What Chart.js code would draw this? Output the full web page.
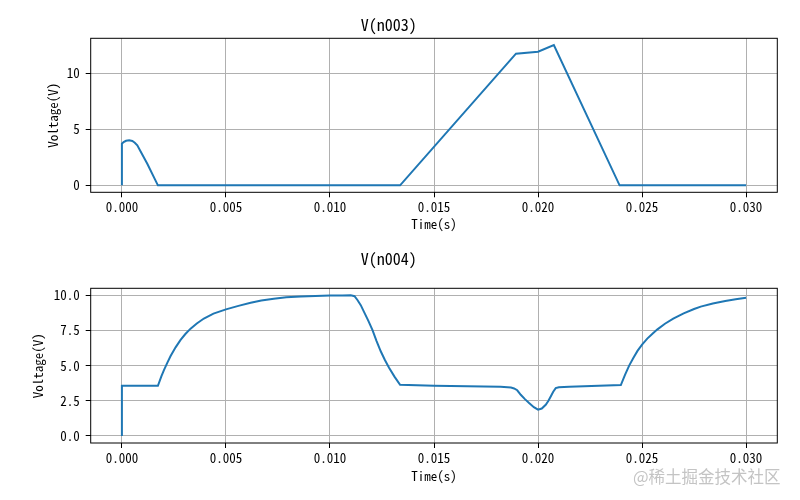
<!DOCTYPE html>
<html>
<head>
<meta charset="utf-8">
<script src="https://cdn.jsdelivr.net/npm/chart.js@4/dist/chart.umd.min.js"></script>
<style>
  html, body { margin: 0; padding: 0; background: #fff; }
  .box { position: relative; width: 800px; }
  .mark { position: absolute; left: 633px; top: 464px; font: 16.5px 'Noto Sans CJK SC', sans-serif; color: #c4c4c4; white-space: nowrap; }
</style>
</head>
<body>
<div class="box" style="height:240px"><canvas id="c1"></canvas></div>
<div class="box" style="height:260px"><canvas id="c2"></canvas></div>
<div class="mark">@稀土掘金技术社区</div>
<script>
// V(n003)
const timeN003 = [0, 0, 0.00008, 0.0002, 0.00035, 0.0005, 0.00062, 0.00074, 0.0009, 0.00122, 0.00173,
  0.01337, 0.01894, 0.020, 0.02076, 0.02392, 0.030];
const voltN003 = [0, 3.72, 3.85, 3.97, 4.02, 3.95, 3.8, 3.57, 3.02, 1.92, 0,
  0, 11.73, 11.91, 12.5, 0, 0];

// V(n004)
const timeN004 = [0, 0, 0.00173, 0.0019, 0.00202, 0.00218, 0.00234, 0.00258, 0.00282, 0.00305, 0.0033, 0.0036,
  0.00394, 0.0044, 0.005, 0.0056, 0.00619, 0.0067, 0.0073, 0.0079, 0.0086, 0.0093, 0.010, 0.0106, 0.011,
  0.01118, 0.01132, 0.01148, 0.01163, 0.01184, 0.01204, 0.01224, 0.01244, 0.01264, 0.01284, 0.0131, 0.01337,
  0.015, 0.0182, 0.0187, 0.01885, 0.019, 0.01917, 0.01937, 0.01957, 0.0198, 0.020, 0.02018, 0.02037, 0.0205,
  0.02061, 0.02073, 0.02085, 0.0210, 0.0215, 0.02398, 0.02418, 0.02438, 0.02458, 0.02478, 0.025, 0.02525,
  0.0255, 0.02574, 0.0261, 0.0265, 0.027, 0.0275, 0.02782, 0.0284, 0.029, 0.0295, 0.030];
const voltN004 = [0, 3.57, 3.57, 4.25, 4.68, 5.2, 5.68, 6.3, 6.83, 7.25, 7.63, 8.0,
  8.35, 8.7, 9.0, 9.25, 9.47, 9.63, 9.76, 9.86, 9.92, 9.96, 9.98, 9.99, 10.0,
  9.94, 9.67, 9.3, 8.84, 8.2, 7.54, 6.75, 6.02, 5.4, 4.85, 4.22, 3.64,
  3.57, 3.5, 3.44, 3.38, 3.25, 2.93, 2.62, 2.34, 2.05, 1.87, 1.95, 2.22, 2.5,
  2.81, 3.15, 3.4, 3.46, 3.5, 3.62, 4.35, 5.0, 5.55, 6.05, 6.5, 6.92,
  7.27, 7.58, 7.98, 8.35, 8.72, 9.03, 9.2, 9.42, 9.6, 9.72, 9.83];

const timeTicks = [0, 0.005, 0.010, 0.015, 0.020, 0.025, 0.030];
const voltTicksTop = [0, 5, 10];
const voltTicksBottom = [0, 2.5, 5, 7.5, 10];

const FONT = "'Noto Sans Mono CJK SC', 'DejaVu Sans Mono', monospace";

const frame = {
  id: 'frame',
  afterDraw(chart) {
    const { ctx, chartArea: a } = chart;
    ctx.save();
    ctx.strokeStyle = '#000';
    ctx.lineWidth = 1;
    ctx.strokeRect(a.left, a.top, a.right - a.left, a.bottom - a.top);
    ctx.restore();
  }
};

function makeChart(id, opts) {
  const pts = opts.t.map((t, i) => ({ x: t, y: opts.v[i] }));
  return new Chart(document.getElementById(id), {
    type: 'line',
    data: {
      datasets: [{
        data: pts,
        borderColor: '#1f77b4',
        borderWidth: 2,
        pointRadius: 0,
        tension: 0,
        fill: false
      }]
    },
    options: {
      responsive: true,
      maintainAspectRatio: false,
      animation: false,
      layout: { padding: { left: 0, right: 22.7, top: 0, bottom: 0 } },
      plugins: {
        legend: { display: false },
        tooltip: { enabled: false },
        title: {
          display: true,
          text: opts.title,
          color: '#000',
          font: { family: FONT, size: 16, weight: 'normal' },
          padding: opts.titlePad
        }
      },
      scales: {
        x: {
          type: 'linear',
          min: -0.0015,
          max: 0.0315,
          afterBuildTicks: s => { s.ticks = timeTicks.map(v => ({ value: v })); },
          afterFit: s => { s.height = opts.xHeight; },
          border: { display: false },
          grid: { color: '#b0b0b0', lineWidth: 1, tickColor: '#000', tickLength: 5 },
          ticks: {
            color: '#000', padding: 2, maxRotation: 0,
            font: { family: FONT, size: 13 },
            callback: v => v.toFixed(3)
          },
          title: {
            display: true, text: 'Time(s)', color: '#000',
            font: { family: FONT, size: 13 },
            padding: { top: 0, bottom: opts.xTitlePad }
          }
        },
        y: {
          min: opts.yMin,
          max: opts.yMax,
          afterBuildTicks: s => { s.ticks = opts.yTicks.map(v => ({ value: v })); },
          afterFit: s => { s.width = 90.7; },
          border: { display: false },
          grid: { color: '#b0b0b0', lineWidth: 1, tickColor: '#000', tickLength: 5 },
          ticks: {
            color: '#000', padding: 6,
            font: { family: FONT, size: 13 },
            callback: v => v.toFixed(opts.yDec)
          },
          title: {
            display: true, text: 'Voltage(V)', color: '#000',
            font: { family: FONT, size: 13 },
            padding: { top: opts.yTitlePad, bottom: 0 }
          }
        }
      }
    },
    plugins: [frame]
  });
}

makeChart('c1', {
  t: timeN003, v: voltN003, title: 'V(n003)',
  titlePad: { top: 15.4, bottom: 3.7 },
  xHeight: 47.7, xTitlePad: 7.7,
  yMin: -0.62, yMax: 13.1, yTicks: voltTicksTop, yDec: 0, yTitlePad: 45
});

makeChart('c2', {
  t: timeN004, v: voltN004, title: 'V(n004)',
  titlePad: { top: 9.2, bottom: 19.9 },
  xHeight: 57, xTitlePad: 16.4,
  yMin: -0.5, yMax: 10.5, yTicks: voltTicksBottom, yDec: 1, yTitlePad: 30.5
});
</script>
</body>
</html>
